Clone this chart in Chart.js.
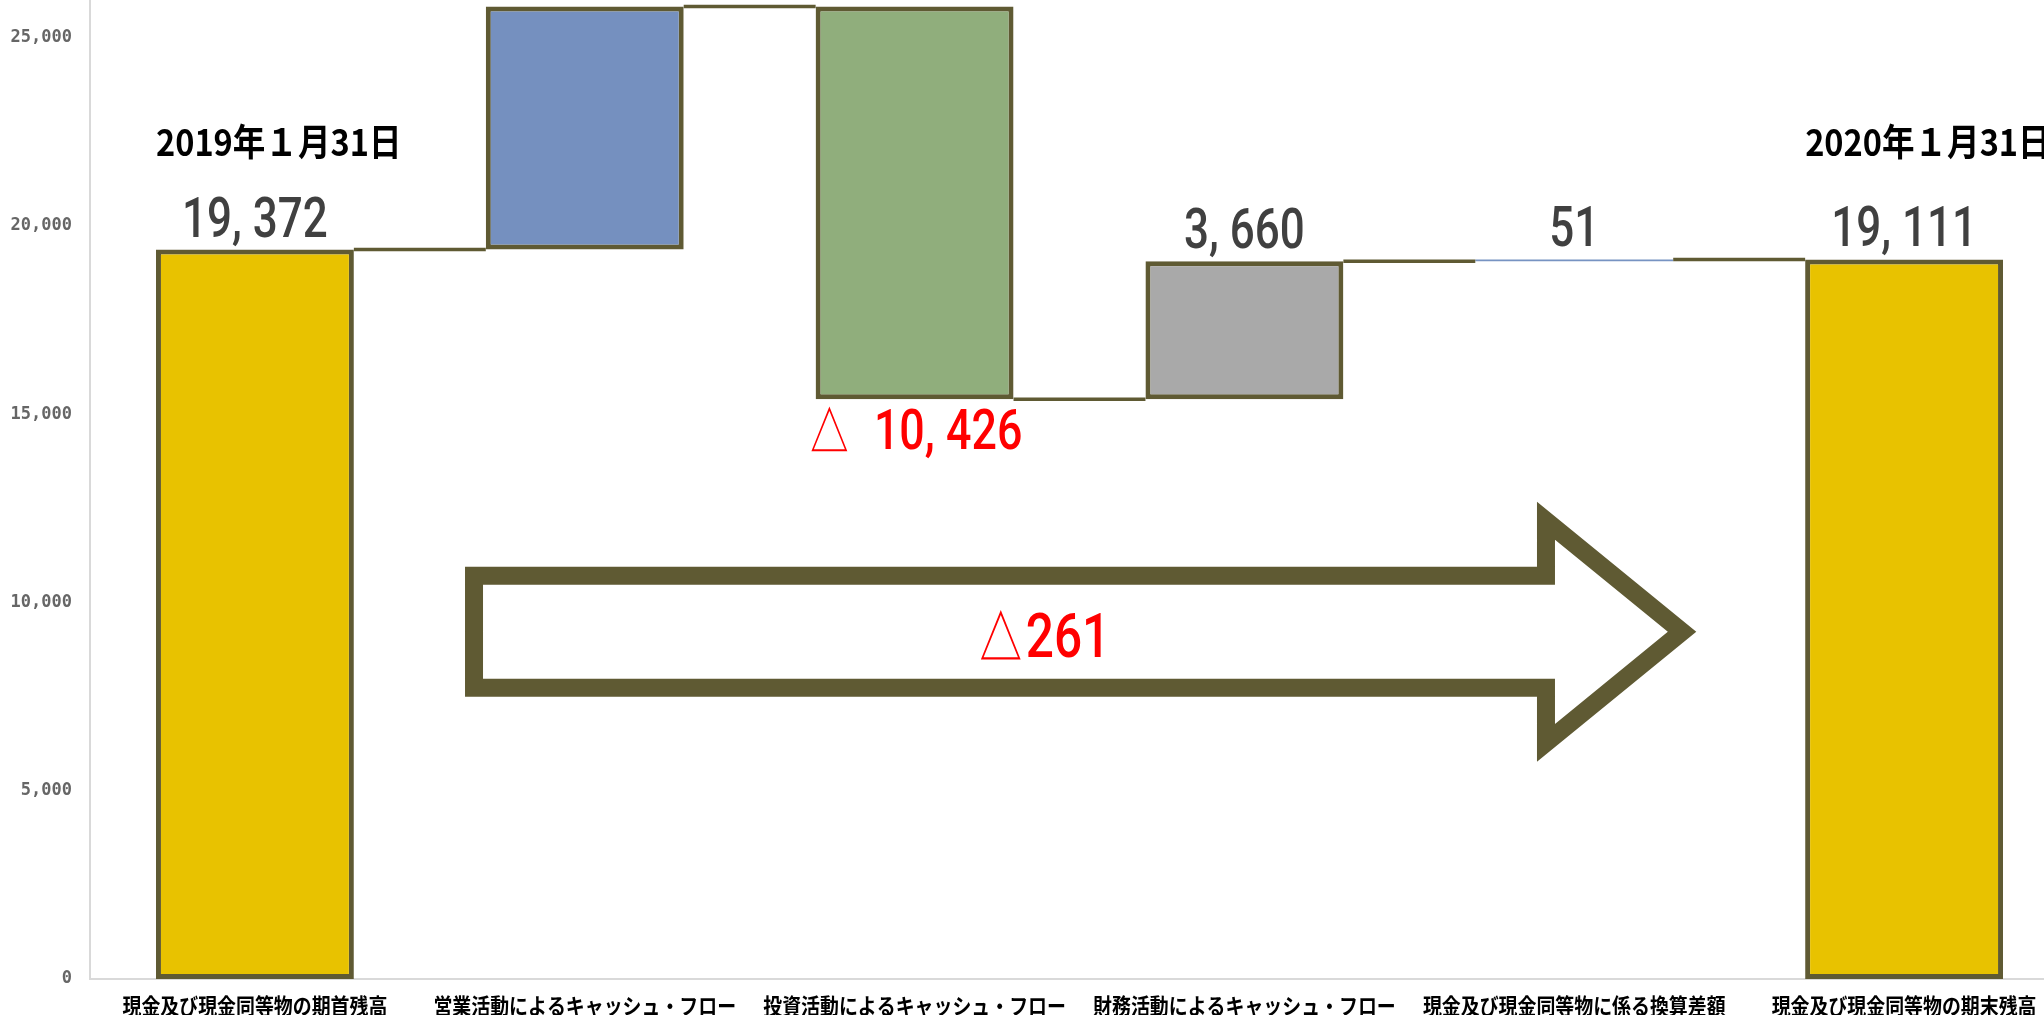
<!DOCTYPE html>
<html lang="ja">
<head>
<meta charset="utf-8">
<title>キャッシュ・フロー</title>
<script src="https://cdn.jsdelivr.net/npm/chart.js@4.4.1/dist/chart.umd.min.js"></script>
<style>
    html, body { margin: 0; padding: 0; background: #fff; overflow: hidden; width: 2044px; height: 1015px; }
    #wrap { position: relative; width: 2069px; height: 1015px; }
</style>
</head>
<body>
<div id="wrap"><canvas id="cfChart"></canvas></div>
<script>
// --- data ---
const categories = [
    '現金及び現金同等物の期首残高',
    '営業活動によるキャッシュ・フロー',
    '投資活動によるキャッシュ・フロー',
    '財務活動によるキャッシュ・フロー',
    '現金及び現金同等物に係る換算差額',
    '現金及び現金同等物の期末残高'
];
const amounts = [19372, 6454, -10426, 3660, 51, 19111];
const isTotal = [true, false, false, false, false, true];
const valueLabels = ['19, 372', '', '△  10, 426', '3, 660', '51', '19, 111'];
const dateLabels = ['2019年１月31日', '', '', '', '', '2020年１月31日'];
const yTicks = [0, 5000, 10000, 15000, 20000, 25000];
const totalChangeLabel = '△261';

// colours
const barColors = ['#e8c200', '#7590bf', '#90ae7c', '#a9a9a9', '#7793c2', '#e8c200'];
const OLIVE = '#5f5a33';
const VALUE_FONT = '500 56px Roboto, "Liberation Sans", sans-serif';

// floating ranges + running level after each bar
const ranges = [];
const levels = [];
let running = 0;
amounts.forEach((v, i) => {
    if (isTotal[i]) {
        ranges.push([0, v]);
        running = v;
    } else {
        ranges.push([running, running + v]);
        running += v;
    }
    levels.push(running);
});

// arrow (category index / value units)
const arrow = { left: 0.637, base: 3.887, tip: 4.37, shaftTop: 10949, shaftBottom: 7494, headTop: 12676, headBottom: 5767, thick: 18 };

function drawText(ctx, text, x, y, font, color, sx, align) {
    ctx.save();
    ctx.font = font;
    ctx.fillStyle = color;
    ctx.textAlign = align || 'center';
    ctx.textBaseline = 'alphabetic';
    ctx.translate(x, y);
    ctx.scale(sx, 1);
    ctx.fillText(text, 0, 0);
    ctx.restore();
}

const waterfallDecor = {
    id: 'waterfallDecor',
    afterDatasetsDraw(chart) {
        const { ctx, scales: { x, y }, chartArea } = chart;
        const bars = chart.getDatasetMeta(0).data;

        // connector lines
        ctx.save();
        ctx.strokeStyle = OLIVE;
        ctx.lineWidth = 3.5;
        for (let i = 0; i < bars.length - 1; i++) {
            const yy = y.getPixelForValue(levels[i]);
            ctx.beginPath();
            ctx.moveTo(bars[i].x + bars[i].width / 2, yy);
            ctx.lineTo(bars[i + 1].x - bars[i + 1].width / 2, yy);
            ctx.stroke();
        }
        ctx.restore();

        // value labels
        bars.forEach((b, i) => {
            if (!valueLabels[i]) return;
            const lo = Math.min(...ranges[i]);
            const hi = Math.max(...ranges[i]);
            if (amounts[i] < 0) {
                drawText(ctx, valueLabels[i], b.x, y.getPixelForValue(lo) + 50, VALUE_FONT, '#ff0000', 0.8);
            } else {
                drawText(ctx, valueLabels[i], b.x, y.getPixelForValue(hi) - 13, VALUE_FONT, '#404040', 0.785);
            }
        });

        // dates above the balance bars
        bars.forEach((b, i) => {
            if (!dateLabels[i]) return;
            drawText(ctx, dateLabels[i], b.x - b.width / 2, y.getPixelForValue(21850), 'bold 37px "Noto Sans CJK JP", sans-serif', '#000', 0.88, 'left');
        });

        // category labels
        bars.forEach((b, i) => {
            drawText(ctx, categories[i], b.x, chartArea.bottom + 35, 'bold 22px "Noto Sans CJK JP", sans-serif', '#000', 0.86);
        });
    },
    afterDraw(chart) {
        const { ctx, scales: { x, y } } = chart;
        const L = x.getPixelForValue(arrow.left);
        const H = x.getPixelForValue(arrow.base);
        const P = x.getPixelForValue(arrow.tip);
        const yT = y.getPixelForValue(arrow.shaftTop);
        const yB = y.getPixelForValue(arrow.shaftBottom);
        const hT = y.getPixelForValue(arrow.headTop);
        const hB = y.getPixelForValue(arrow.headBottom);
        const yc = (hT + hB) / 2;
        const t = arrow.thick;

        // inner outline by offsetting the head diagonal
        const len = Math.hypot(P - H, yc - hT);
        const dx = (P - H) / len, dy = (yc - hT) / len;
        const nx = -dy, ny = dx;
        const s1 = t * (1 - nx) / dx;
        const ihT = hT + ny * t + s1 * dy;
        const s2 = (yc - hT - ny * t) / dy;
        const iP = H + nx * t + s2 * dx;
        const ihB = yc + (yc - ihT);

        ctx.save();
        ctx.beginPath();
        ctx.moveTo(L, yT); ctx.lineTo(H, yT); ctx.lineTo(H, hT); ctx.lineTo(P, yc);
        ctx.lineTo(H, hB); ctx.lineTo(H, yB); ctx.lineTo(L, yB); ctx.closePath();
        ctx.moveTo(L + t, yT + t); ctx.lineTo(H + t, yT + t); ctx.lineTo(H + t, ihT); ctx.lineTo(iP, yc);
        ctx.lineTo(H + t, ihB); ctx.lineTo(H + t, yB - t); ctx.lineTo(L + t, yB - t); ctx.closePath();
        ctx.fillStyle = OLIVE;
        ctx.fill('evenodd');
        ctx.restore();

        drawText(ctx, totalChangeLabel, x.getPixelForValue(2.39), y.getPixelForValue(8557), '500 62px Roboto, "Liberation Sans", sans-serif', '#ff0000', 0.8);
    }
};

const ctx = document.getElementById('cfChart');
new Chart(ctx, {
    type: 'bar',
    data: {
        labels: categories,
        datasets: [{
            data: ranges,
            backgroundColor: barColors,
            borderColor: OLIVE,
            borderWidth: [5, 5, 5, 5, 0, 5],
            borderSkipped: false,
            barPercentage: 0.6,
            categoryPercentage: 1.0
        }]
    },
    options: {
        responsive: true,
        maintainAspectRatio: false,
        animation: false,
        layout: { padding: 0 },
        plugins: {
            legend: { display: false },
            tooltip: { enabled: false }
        },
        scales: {
            x: {
                grid: { display: false, drawTicks: false },
                ticks: { display: false },
                border: { display: true, color: '#d9d9d9', width: 2 },
                afterFit: s => { s.height = 36; s.paddingLeft = 0; s.paddingRight = 0; }
            },
            y: {
                min: 0,
                max: 26000,
                grid: { display: false, drawTicks: false },
                border: { display: true, color: '#d9d9d9', width: 2 },
                ticks: {
                    padding: 18,
                    color: '#666666',
                    font: { family: 'DejaVu Sans Mono', size: 17, weight: 'bold' },
                    callback: v => v.toLocaleString('en-US')
                },
                afterBuildTicks: s => { s.ticks = yTicks.map(v => ({ value: v })); },
                afterFit: s => { s.width = 90; s.paddingTop = 0; s.paddingBottom = 0; }
            }
        }
    },
    plugins: [waterfallDecor]
});
</script>
</body>
</html>
